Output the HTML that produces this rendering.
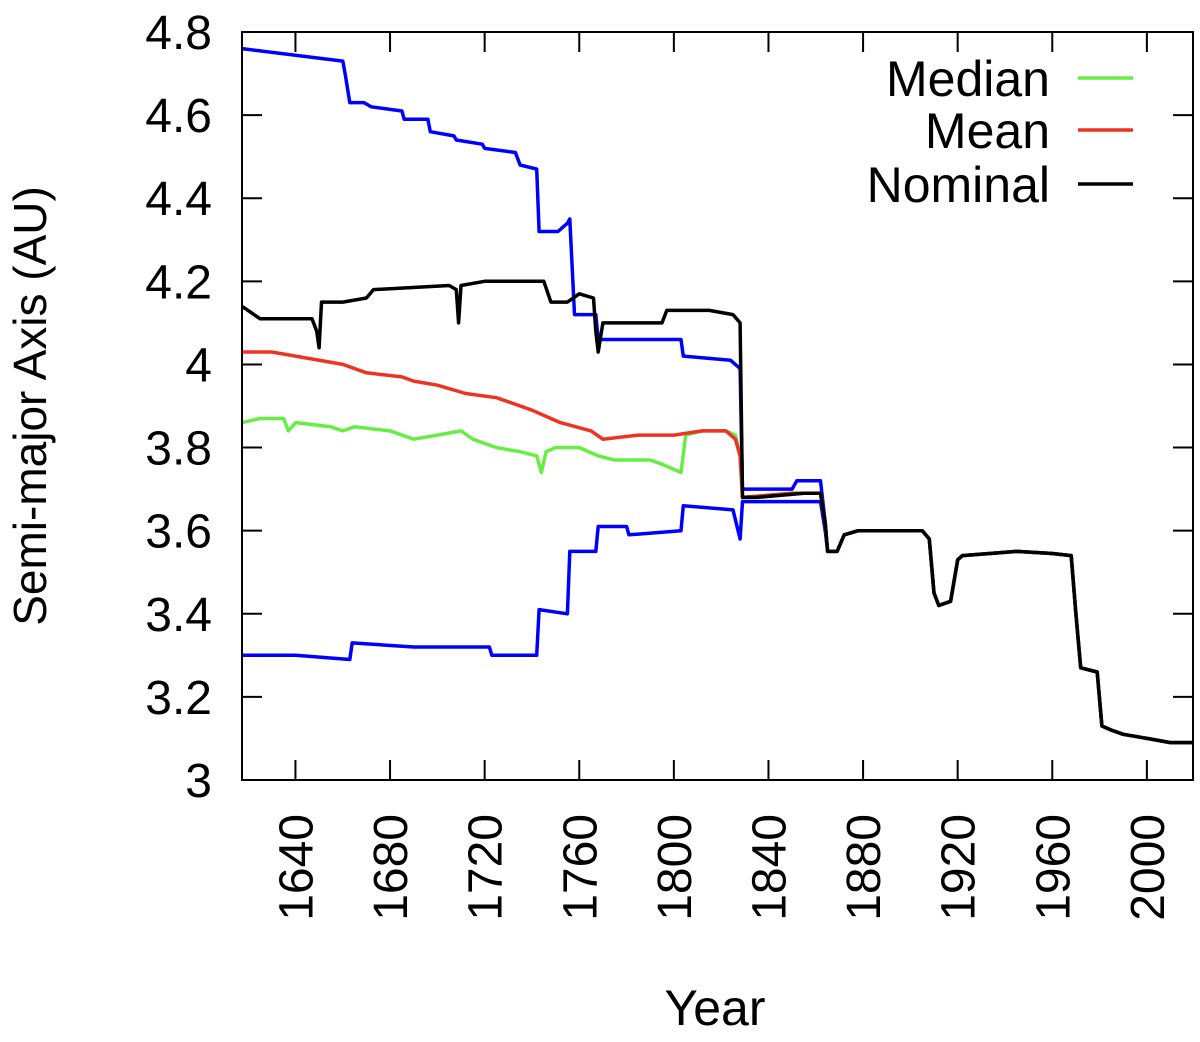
<!DOCTYPE html>
<html><head><meta charset="utf-8"><style>
body{margin:0;background:#fff}
svg{display:block;font-family:"Liberation Sans",Arial,sans-serif}
</style></head><body>
<svg id="chart" width="1200" height="1042" viewBox="0 0 1200 1042">
<g id="grid"></g>
<g id="series" fill="none" stroke-width="3.5" stroke-linejoin="round"></g>
<rect x="242" y="32" width="951" height="748" fill="none" stroke="#000" stroke-width="2"/>
<g id="ticks"></g>
<text transform="translate(46,406) rotate(-90)" text-anchor="middle" font-size="46">Semi-major Axis (AU)</text>
<text x="715" y="1025" text-anchor="middle" font-size="50">Year</text>
<g id="legend" font-size="50"></g>
</svg>
<script>
const yTicks=[3,3.2,3.4,3.6,3.8,4,4.2,4.4,4.6,4.8];
const yTickLabels=["3","3.2","3.4","3.6","3.8","4","4.2","4.4","4.6","4.8"];
const xTicks=[1640,1680,1720,1760,1800,1840,1880,1920,1960,2000];
const tailYears=[1865,1869,1872,1878,1905,1908,1910,1912,1917,1920,1922,1945,1960,1968,1970,1972,1979,1981,1985,1990,2000,2010,2019.5];
const tailVals=[3.55,3.55,3.59,3.60,3.60,3.58,3.45,3.42,3.43,3.53,3.54,3.55,3.545,3.54,3.40,3.27,3.26,3.13,3.12,3.11,3.10,3.09,3.09];
const upperYears=[1617.4,1660,1661,1663,1669,1672,1685,1686,1696,1697,1707,1708,1719,1720,1733,1735,1742,1743,1751,1755,1756,1758,1767,1768,1803,1804,1824,1828,1829,1830,1850,1852,1862,1864];
const upperVals=[4.76,4.73,4.70,4.63,4.63,4.62,4.61,4.59,4.59,4.56,4.55,4.54,4.53,4.52,4.51,4.48,4.47,4.32,4.32,4.34,4.35,4.12,4.12,4.06,4.06,4.02,4.01,3.99,3.70,3.70,3.70,3.72,3.72,3.62];
const lowerYears=[1617.4,1640,1663,1664,1690,1722,1723,1742,1743,1755,1756,1767,1768,1780,1781,1803,1804,1825,1828,1829,1862,1864];
const lowerVals=[3.30,3.30,3.29,3.33,3.32,3.32,3.30,3.30,3.41,3.40,3.55,3.55,3.61,3.61,3.59,3.60,3.66,3.65,3.58,3.67,3.67,3.60];
const nominalYears=[1617.4,1625,1647,1649,1650,1651,1660,1670,1673,1705,1708,1709,1710,1720,1745,1748,1755,1760,1766,1767,1768,1770,1795,1797,1815,1825,1828,1829,1835,1855,1862,1864];
const nominalVals=[4.14,4.11,4.11,4.08,4.04,4.15,4.15,4.16,4.18,4.19,4.18,4.10,4.19,4.20,4.20,4.15,4.15,4.17,4.16,4.08,4.03,4.10,4.10,4.13,4.13,4.12,4.10,3.68,3.68,3.69,3.69,3.62];
const meanYears=[1617.4,1630,1640,1660,1670,1685,1690,1700,1712,1725,1730,1740,1748,1752,1765,1770,1785,1800,1812,1822,1826,1828,1829,1850,1862,1864];
const meanVals=[4.03,4.03,4.02,4.00,3.98,3.97,3.96,3.95,3.93,3.92,3.91,3.89,3.87,3.86,3.84,3.82,3.83,3.83,3.84,3.84,3.82,3.78,3.68,3.69,3.69,3.62];
const medianYears=[1617.4,1625,1635,1637,1640,1655,1660,1665,1680,1690,1700,1710,1715,1725,1735,1742,1744,1746,1750,1760,1768,1775,1790,1795,1803,1805,1812,1822,1826,1828,1829,1850,1862,1864];
const medianVals=[3.86,3.87,3.87,3.84,3.86,3.85,3.84,3.85,3.84,3.82,3.83,3.84,3.82,3.80,3.79,3.78,3.74,3.79,3.80,3.80,3.78,3.77,3.77,3.76,3.74,3.83,3.84,3.84,3.83,3.78,3.68,3.69,3.69,3.62];

const NS='http://www.w3.org/2000/svg';
const X0=242,X1=1193,Y0=780,Y1=32,YRmin=1617.4,YRmax=2019.5;
function sx(v){return X0+(v-YRmin)/(YRmax-YRmin)*(X1-X0);}
function sy(v){return Y0-(v-3)/(4.8-3)*(Y0-Y1);}
const ticks=document.getElementById('ticks');
yTicks.forEach((t,i)=>{
  const l=document.createElementNS(NS,'path');
  l.setAttribute('d',`M${X0},${sy(t)}h20M${X1},${sy(t)}h-20`);
  l.setAttribute('stroke','#000');l.setAttribute('stroke-width','2');
  
  
  ticks.appendChild(l);
  const tx=document.createElementNS(NS,'text');
  tx.setAttribute('x',212);tx.setAttribute('y',sy(t)+17);
  tx.setAttribute('text-anchor','end');tx.setAttribute('font-size','48');
  tx.textContent=yTickLabels[i];
  
  
  ticks.appendChild(tx);
});
xTicks.forEach(t=>{
  const l=document.createElementNS(NS,'path');
  l.setAttribute('d',`M${sx(t)},${Y0}v-20M${sx(t)},${Y1}v20`);
  l.setAttribute('stroke','#000');l.setAttribute('stroke-width','2');
  
  
  ticks.appendChild(l);
  const tx=document.createElementNS(NS,'text');
  const x=sx(t)+17,y=814;
  tx.setAttribute('transform',`translate(${x},${y}) rotate(-90)`);
  tx.setAttribute('text-anchor','end');tx.setAttribute('font-size','48');
  tx.textContent=t;
  
  
  ticks.appendChild(tx);
});
const g=document.getElementById('series');
function draw(ys,vs,color,name){
  const yy=ys.concat(tailYears),vv=vs.concat(tailVals);
  const p=document.createElementNS(NS,'path');
  p.setAttribute('d',yy.map((y,i)=>(i?'L':'M')+sx(y).toFixed(1)+','+sy(vv[i]).toFixed(1)).join(''));
  p.setAttribute('stroke',color);
  
  
  g.appendChild(p);
}
draw(upperYears,upperVals,'#0000ff','upper-bound-line');
draw(lowerYears,lowerVals,'#0000ff','lower-bound-line');
draw(medianYears,medianVals,'#66ee44','median-line');
draw(meanYears,meanVals,'#ee3322','mean-line');
draw(nominalYears,nominalVals,'#000000','nominal-line');
const lg=document.getElementById('legend');
[['Median','#66ee44',78,'legend-median'],['Mean','#ee3322',130,'legend-mean'],['Nominal','#000',184,'legend-nominal']].forEach(e=>{
  const t=document.createElementNS(NS,'text');
  t.setAttribute('x',1050);t.setAttribute('y',e[2]+18);t.setAttribute('text-anchor','end');
  t.textContent=e[0];
  
  
  lg.appendChild(t);
  const l=document.createElementNS(NS,'line');
  l.setAttribute('x1',1078);l.setAttribute('x2',1133);l.setAttribute('y1',e[2]);l.setAttribute('y2',e[2]);
  l.setAttribute('stroke',e[1]);l.setAttribute('stroke-width','3.5');
  
  
  lg.appendChild(l);
});
</script>
</body></html>
